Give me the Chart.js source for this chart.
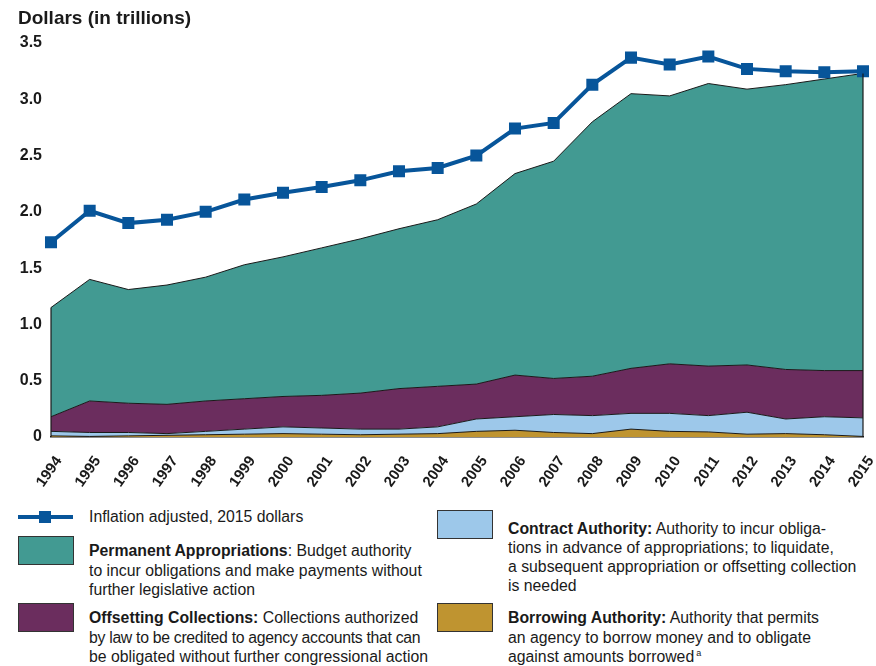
<!DOCTYPE html>
<html>
<head>
<meta charset="utf-8">
<script src="https://cdn.jsdelivr.net/npm/chart.js@4"></script>
<style>
  body { margin: 0; background: #fff; font-family: "Liberation Sans", Arial, sans-serif; color: #1a1a1a; }
  #wrap { position: relative; width: 876px; height: 666px; }
  #chart { position: absolute; left: 0; top: 0; }
  .title { position: absolute; left: 18px; top: 7px; font-weight: bold; font-size: 19px; }
  .sw { position: absolute; width: 54px; height: 27px; border: 1.5px solid #333; }
  .txt { position: absolute; font-size: 15.8px; line-height: 19.5px; white-space: nowrap; }
  .lineicon { position: absolute; left: 18px; top: 515px; width: 55px; height: 4px; background: #07559a; }
  .lineicon span { position: absolute; left: 21px; top: -4px; width: 12px; height: 12px; background: #07559a; }
  sup { font-size: 9px; vertical-align: super; line-height: 0; margin-left: 2px; }
</style>
</head>
<body>
<div id="wrap">
  <canvas id="chart" width="876" height="495"></canvas>
  <div class="title">Dollars (in trillions)</div>

  <div class="lineicon"><span></span></div>
  <div class="txt" style="left:89px; top:507px;">Inflation adjusted, 2015 dollars</div>

  <div class="sw" style="left:18px; top:536px; background:#429a92;"></div>
  <div class="txt" style="left:89px; top:541px;"><b>Permanent Appropriations</b>: Budget authority<br>to incur obligations and make payments without<br>further legislative action</div>

  <div class="sw" style="left:18px; top:603px; background:#6b2d5e;"></div>
  <div class="txt" style="left:89px; top:608px;"><b>Offsetting Collections:</b> Collections authorized<br><span style="letter-spacing:-0.3px;">by law to be credited to agency accounts that can</span><br>be obligated without further congressional action</div>

  <div class="sw" style="left:437px; top:510px; background:#9dc8ea;"></div>
  <div class="txt" style="left:508px; top:519px; line-height:19px;"><b>Contract Authority:</b> Authority to incur obliga-<br>tions in advance of appropriations; to liquidate,<br>a subsequent appropriation or offsetting collection<br>is needed</div>

  <div class="sw" style="left:437px; top:603px; background:#bf9430;"></div>
  <div class="txt" style="left:508px; top:608px;"><b>Borrowing Authority:</b> Authority that permits<br>an agency to borrow money and to obligate<br>against amounts borrowed<sup>a</sup></div>
</div>

<script>
// years on the x axis
const years = ['1994', '1995', '1996', '1997', '1998', '1999', '2000', '2001', '2002', '2003', '2004',
  '2005', '2006', '2007', '2008', '2009', '2010', '2011', '2012', '2013', '2014', '2015'];

// stacked components, trillions of dollars
const borrowing = [0.01, 0.005, 0.01, 0.015, 0.02, 0.025, 0.03, 0.025, 0.02, 0.025, 0.03,
  0.05, 0.06, 0.04, 0.03, 0.07, 0.05, 0.045, 0.025, 0.03, 0.02, 0.005];
const contract = [0.04, 0.035, 0.03, 0.015, 0.03, 0.045, 0.06, 0.055, 0.05, 0.045, 0.06,
  0.11, 0.12, 0.16, 0.16, 0.14, 0.16, 0.145, 0.195, 0.13, 0.16, 0.165];
const offsetting = [0.13, 0.28, 0.26, 0.26, 0.27, 0.27, 0.27, 0.29, 0.32, 0.36, 0.36,
  0.31, 0.37, 0.32, 0.35, 0.40, 0.44, 0.44, 0.42, 0.44, 0.41, 0.42];
const permanent = [0.97, 1.08, 1.01, 1.06, 1.10, 1.19, 1.24, 1.31, 1.37, 1.42, 1.48,
  1.60, 1.79, 1.93, 2.26, 2.44, 2.38, 2.51, 2.45, 2.53, 2.59, 2.64];

// total in 2015 dollars
const inflationAdjusted = [1.73, 2.01, 1.90, 1.93, 2.00, 2.11, 2.17, 2.22, 2.28, 2.36, 2.39,
  2.50, 2.74, 2.79, 3.13, 3.37, 3.31, 3.38, 3.27, 3.25, 3.24, 3.25];

const yTicks = [0, 0.5, 1.0, 1.5, 2.0, 2.5, 3.0, 3.5];

// draws the vertical edges of the stacked area
const edgePlugin = {
  id: 'edges',
  afterDatasetsDraw(chart) {
    const meta = chart.getDatasetMeta(3);
    const pts = meta.data;
    const base = chart.scales.y.getPixelForValue(0);
    const c = chart.ctx;
    c.save();
    c.strokeStyle = '#1a1a1a';
    c.lineWidth = 1.2;
    [pts[0], pts[pts.length - 1]].forEach(p => {
      c.beginPath();
      c.moveTo(p.x, base);
      c.lineTo(p.x, p.y);
      c.stroke();
    });
    c.restore();
  }
};

function area(label, data, color, fill) {
  return {
    label: label,
    data: data,
    backgroundColor: color,
    borderColor: '#1a1a1a',
    borderWidth: 1,
    pointRadius: 0,
    fill: fill,
    tension: 0,
    order: 1,
    stack: 'auth'
  };
}

const ctx = document.getElementById('chart').getContext('2d');
const chart = new Chart(ctx, {
  type: 'line',
  data: {
    labels: years,
    datasets: [
      area('Borrowing Authority', borrowing, '#bf9430', 'origin'),
      area('Contract Authority', contract, '#9dc8ea', '-1'),
      area('Offsetting Collections', offsetting, '#6b2d5e', '-1'),
      area('Permanent Appropriations', permanent, '#429a92', '-1'),
      {
        label: 'Inflation adjusted, 2015 dollars',
        data: inflationAdjusted,
        borderColor: '#07559a',
        backgroundColor: '#07559a',
        borderWidth: 4,
        pointStyle: 'rect',
        pointRadius: 8.5,
        pointBorderWidth: 0,
        fill: false,
        tension: 0,
        order: 0,
        stack: 'line'
      }
    ]
  },
  options: {
    responsive: false,
    animation: false,
    layout: { padding: { left: 0, right: 13, top: 43, bottom: 0 } },
    plugins: {
      legend: { display: false },
      tooltip: { enabled: false }
    },
    scales: {
      x: {
        offset: false,
        grid: { display: false, drawTicks: false },
        border: { display: true, color: '#1a1a1a', width: 1.5 },
        ticks: {
          minRotation: 55,
          maxRotation: 55,
          padding: 16,
          labelOffset: 8,
          color: '#1a1a1a',
          font: { family: '"Liberation Sans", Arial', size: 15, weight: 'bold' }
        },
        afterFit(scale) {
          scale.height = 58;
          scale.paddingLeft = 0;
          scale.paddingRight = 0;
        }
      },
      y: {
        stacked: true,
        min: 0,
        max: 3.5,
        grid: { display: false, drawTicks: false },
        border: { display: false },
        afterBuildTicks(scale) { scale.ticks = yTicks.map(v => ({ value: v })); },
        afterFit(scale) {
          scale.width = 51;
          scale.paddingTop = 0;
          scale.paddingBottom = 0;
        },
        ticks: {
          padding: 9,
          color: '#1a1a1a',
          font: { family: '"Liberation Sans", Arial', size: 16, weight: 'bold' },
          callback: v => v === 0 ? '0' : v.toFixed(1)
        }
      }
    }
  },
  plugins: [edgePlugin]
});
</script>
</body>
</html>
